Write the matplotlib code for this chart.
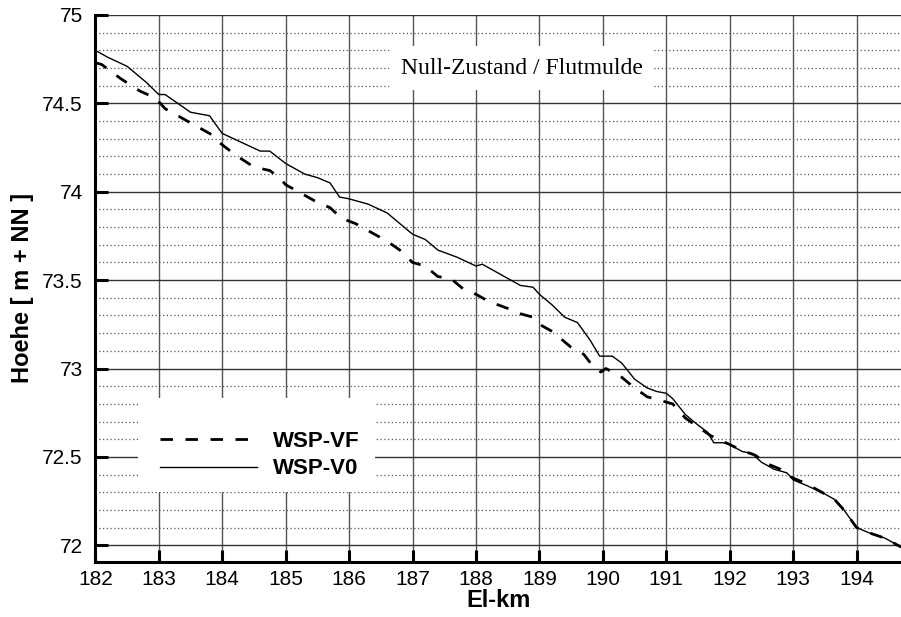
import numpy as np
import matplotlib
matplotlib.use("Agg")
import matplotlib.pyplot as plt
from matplotlib.patches import Rectangle
from matplotlib.ticker import MultipleLocator

plt.rcParams['font.family'] = ['Liberation Sans', 'DejaVu Sans']

# WSP-V0 (solid)
km_v0 = [182.0, 182.2, 182.5, 182.8, 183.0, 183.1, 183.5, 183.8, 183.9, 184.0,
         184.3, 184.6, 184.75, 185.0, 185.3, 185.5, 185.7, 185.85, 186.0, 186.3,
         186.6, 186.8, 187.0, 187.2, 187.4, 187.7, 188.0, 188.1, 188.4, 188.7,
         188.9, 189.0, 189.2, 189.4, 189.6, 189.8, 189.95, 190.15, 190.3, 190.5,
         190.7, 190.85, 191.0, 191.1, 191.3, 191.5, 191.65, 191.75, 191.9, 192.0,
         192.2, 192.35, 192.5, 192.7, 192.9, 193.0, 193.2, 193.45, 193.65, 193.8,
         194.0, 194.2, 194.45, 194.7]
wsp_v0 = [74.80, 74.76, 74.71, 74.62, 74.55, 74.55, 74.45, 74.43, 74.38, 74.33,
          74.28, 74.23, 74.23, 74.16, 74.10, 74.08, 74.05, 73.97, 73.96, 73.93,
          73.88, 73.82, 73.76, 73.73, 73.67, 73.63, 73.58, 73.59, 73.53, 73.47,
          73.46, 73.42, 73.36, 73.29, 73.26, 73.16, 73.07, 73.07, 73.03, 72.94,
          72.89, 72.87, 72.86, 72.83, 72.74, 72.68, 72.64, 72.58, 72.58, 72.57,
          72.53, 72.52, 72.47, 72.43, 72.41, 72.37, 72.34, 72.30, 72.26, 72.20,
          72.10, 72.07, 72.04, 71.99]

# WSP-VF (dashed)
km_vf = [182.0, 182.1, 182.4, 182.7, 182.95, 183.1, 183.3, 183.6, 183.85, 183.95,
         184.2, 184.5, 184.75, 184.9, 185.0, 185.25, 185.5, 185.7, 185.88, 186.1,
         186.3, 186.6, 186.8, 187.0, 187.2, 187.4, 187.6, 187.8, 188.0, 188.2,
         188.5, 188.7, 188.9, 189.0, 189.2, 189.4, 189.5, 189.7, 189.85, 189.97,
         190.05, 190.3, 190.5, 190.7, 190.9, 191.1, 191.3, 191.5, 191.7, 192.0,
         192.2, 192.4, 192.6, 192.8, 193.0, 193.2, 193.45, 193.65, 193.8, 194.0,
         194.2, 194.45, 194.7]
wsp_vf = [74.73, 74.72, 74.64, 74.57, 74.53, 74.47, 74.43, 74.37, 74.32, 74.28,
          74.21, 74.14, 74.12, 74.08, 74.04, 73.99, 73.94, 73.91, 73.85, 73.82,
          73.78, 73.72, 73.67, 73.60, 73.58, 73.52, 73.51, 73.45, 73.42, 73.38,
          73.34, 73.31, 73.29, 73.25, 73.21, 73.15, 73.12, 73.08, 73.01, 72.98,
          73.00, 72.95, 72.89, 72.84, 72.82, 72.80, 72.72, 72.67, 72.62, 72.57,
          72.535, 72.51, 72.46, 72.43, 72.38, 72.35, 72.30, 72.26, 72.20, 72.10,
          72.07, 72.04, 71.99]

fig = plt.figure(figsize=(9.01, 6.17), dpi=100)
ax = fig.add_axes([0.1058, 0.0896, 0.8942, 0.8861])

ax.plot(km_vf, wsp_vf, color='black', lw=2.0, dashes=(4.5, 4.5), label='WSP-VF')
ax.plot(km_v0, wsp_v0, color='black', lw=1.0, label='WSP-V0')

ax.set_xlim(182, 194.7)
ax.set_ylim(71.907, 75)
ax.xaxis.set_major_locator(MultipleLocator(1))
ax.yaxis.set_minor_locator(MultipleLocator(0.1))
ax.set_yticks([72, 72.5, 73, 73.5, 74, 74.5, 75])
ax.set_yticklabels(['72', '72.5', '73', '73.5', '74', '74.5', '75'])

ax.set_axisbelow(True)
ax.grid(True, which='major', axis='x', color='#555555', lw=1.0)
ax.grid(True, which='major', axis='y', color='#333333', lw=1.0)
ax.grid(True, which='minor', axis='y', color='#555555', lw=0.9, linestyle=(0, (1, 2)))

for s in ['top', 'right']:
    ax.spines[s].set_visible(False)
for s in ['left', 'bottom']:
    ax.spines[s].set_linewidth(2.2)

ax.tick_params(which='major', direction='in', length=9, width=2.2, labelsize=15)
ax.tick_params(axis='y', which='major', pad=9)
ax.tick_params(axis='x', which='major', pad=6)
ax.tick_params(which='minor', length=0)

ax.set_xlabel('El-km', fontsize=17, fontweight='bold', labelpad=0)
ax.set_ylabel('Hoehe [ m + NN ]', fontsize=17, fontweight='bold', labelpad=6)

# white box behind the legend
ax.add_patch(Rectangle((0.053, 0.1275), 0.294, 0.172, transform=ax.transAxes,
                       facecolor='white', edgecolor='none', zorder=1))
leg = ax.legend(loc='upper left', bbox_to_anchor=(0.055, 0.276), frameon=False,
                handlelength=4.4, handletextpad=0.7, labelspacing=0.3,
                prop={'weight': 'bold', 'size': 16})

ax.text(188.72, 74.70, 'Null-Zustand / Flutmulde', family='Liberation Serif',
        fontsize=17, ha='center', va='center', zorder=3,
        bbox=dict(boxstyle='square,pad=0.5', facecolor='white', edgecolor='none'))

fig.savefig('out.png', dpi=100)
